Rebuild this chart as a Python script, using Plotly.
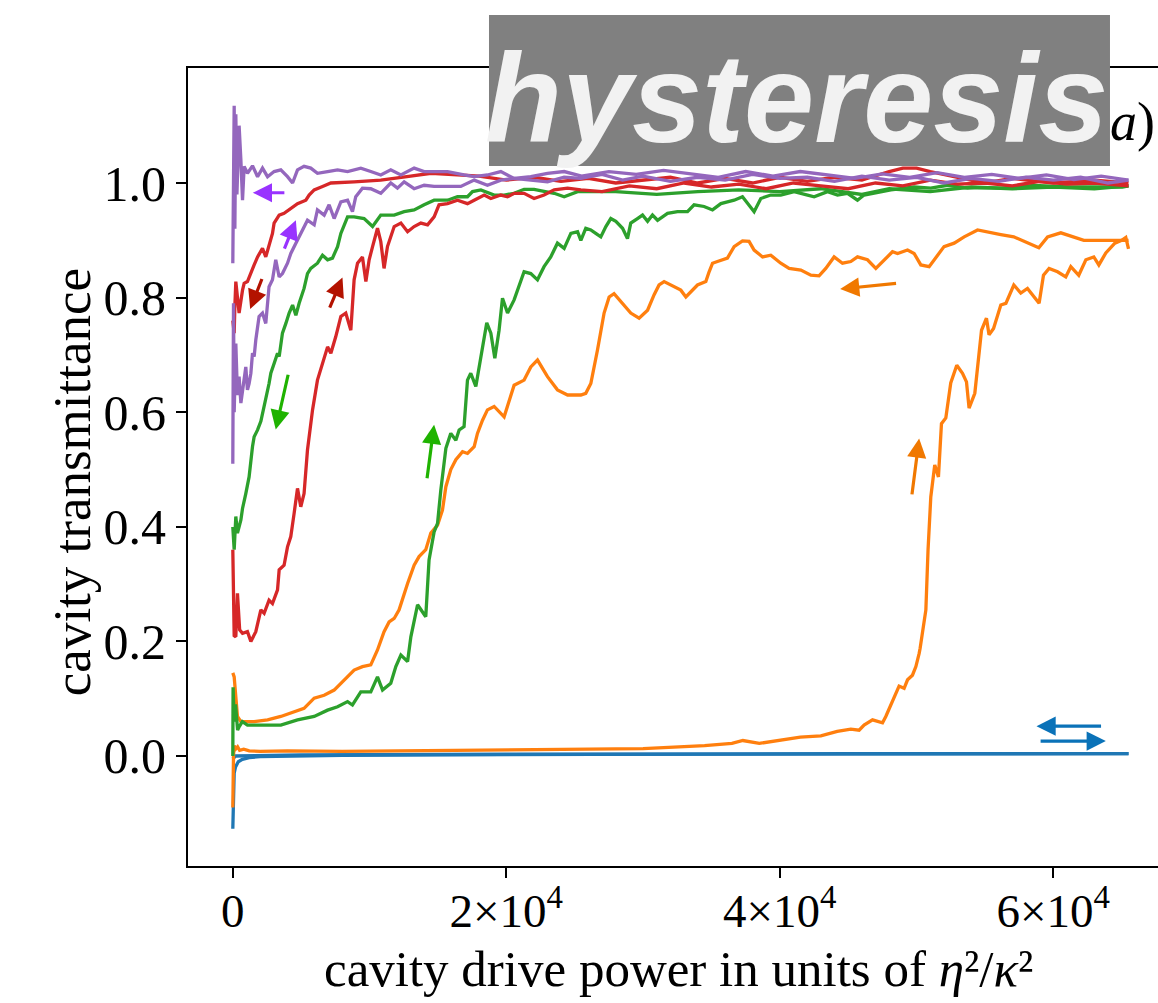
import plotly.graph_objects as go

# ---------------- data (x in units of 10^3 eta^2/kappa^2) ----------------
blue_up_x = [0, 0.02, 0.05, 0.1, 0.2, 0.4, 0.7, 1.2, 2, 4, 8, 15, 25, 35, 45, 55, 65.5]
blue_up_y = [-0.127, -0.09, -0.05, -0.03, -0.019, -0.01, -0.006, -0.003, -0.001, 0.0, 0.001, 0.002, 0.003, 0.003, 0.004, 0.004, 0.004]
blue_down_x = [65.5, 40, 20, 5, 1, 0.2, 0]
blue_down_y = [0.004, 0.004, 0.003, 0.002, 0.001, 0.0, -0.005]

orange_up_x = [0, 0.02, 0.05, 0.1, 0.2, 0.35, 0.5, 0.8, 1.2, 2, 4, 8, 14, 20, 25.4, 30, 34.5, 36.5, 37.3, 38.5,
               41.5, 43.0, 44.2, 45.19, 45.80, 46.16, 46.78, 47.51, 47.75, 48.12, 48.48, 48.72, 49.09, 49.34, 49.70,
               49.95, 50.19, 50.26, 50.68, 50.84, 51.04, 51.33, 51.60, 51.82, 52.14, 52.50, 52.94, 53.36, 53.65,
               53.84, 54.26, 54.46, 54.75, 55.11, 55.30, 55.63, 55.92, 56.16, 56.53, 57.11, 57.62, 58.11, 58.96,
               59.28, 59.69, 60.31, 60.91, 61.28, 61.86, 62.38, 62.96, 63.33, 63.84, 64.5, 65.0, 65.3, 65.5]
orange_up_y = [-0.09, -0.03, 0.0, 0.018, 0.012, 0.016, 0.010, 0.012, 0.009, 0.008, 0.009, 0.008, 0.009, 0.010, 0.012, 0.013, 0.018, 0.022, 0.027, 0.022,
               0.033, 0.035, 0.043, 0.047, 0.045, 0.054, 0.063, 0.058, 0.069, 0.089, 0.112, 0.122, 0.118, 0.133, 0.141,
               0.156, 0.179, 0.188, 0.255, 0.36, 0.452, 0.508, 0.487, 0.58, 0.59, 0.651, 0.682, 0.668, 0.653,
               0.607, 0.633, 0.679, 0.743, 0.764, 0.735, 0.746, 0.77, 0.787, 0.79, 0.822, 0.808, 0.816, 0.79,
               0.839, 0.851, 0.845, 0.836, 0.854, 0.839, 0.866, 0.871, 0.857, 0.878, 0.895, 0.90, 0.905, 0.885]

orange_down_x = [65.5, 64.94, 64.20, 62.23, 60.55, 59.58, 58.94, 57.11, 56.16, 54.46, 53.48, 52.75, 52.01, 50.92, 50.31,
                 49.82, 49.34, 48.61, 48.24, 47.63, 47.02, 46.41, 45.68, 45.19, 44.58, 43.97, 43.36, 42.87, 42.27,
                 41.54, 40.68, 40.07, 39.34, 38.74, 38.12, 37.75, 37.27, 36.66, 36.17, 35.44, 35.08, 34.83, 34.59,
                 33.98, 33.13, 32.76, 32.03, 31.54, 31.17, 30.81, 30.33, 29.71, 29.10, 28.50, 27.88, 27.52, 27.15,
                 26.67, 26.18, 25.81, 25.45, 24.48, 23.74, 23.01, 22.28, 21.79, 21.30, 20.57, 19.84, 19.11, 18.62,
                 18.26, 17.89, 17.65, 17.16, 16.80, 16.31, 15.94, 15.58, 15.33, 14.97, 14.48, 14.11, 13.62, 13.26,
                 12.78, 12.16, 11.80, 11.43, 11.06, 10.58, 10.09, 9.48, 8.87, 8.39, 7.90, 7.41, 6.68, 5.95, 5.21,
                 4.48, 3.51, 2.54, 1.56, 0.59, 0.34, 0.22, 0.10, 0.0]
orange_down_y = [0.90, 0.90, 0.90, 0.90, 0.913, 0.906, 0.887, 0.906, 0.91, 0.918, 0.906, 0.895, 0.889, 0.854, 0.857,
                 0.877, 0.883, 0.877, 0.88, 0.866, 0.851, 0.866, 0.871, 0.863, 0.86, 0.871, 0.851, 0.838, 0.839,
                 0.848, 0.851, 0.86, 0.874, 0.871, 0.883, 0.898, 0.899, 0.889, 0.869, 0.863, 0.86, 0.845, 0.828,
                 0.822, 0.801, 0.813, 0.822, 0.828, 0.822, 0.805, 0.778, 0.764, 0.773, 0.79, 0.807, 0.801, 0.773,
                 0.709, 0.65, 0.633, 0.63, 0.63, 0.639, 0.662, 0.691, 0.679, 0.656, 0.647, 0.592, 0.61, 0.604,
                 0.586, 0.563, 0.54, 0.528, 0.531, 0.517, 0.5, 0.47, 0.429, 0.403, 0.389, 0.36, 0.348, 0.333,
                 0.301, 0.255, 0.24, 0.234, 0.217, 0.185, 0.159, 0.156, 0.15, 0.138, 0.127, 0.115, 0.106, 0.101, 0.083,
                 0.077, 0.069, 0.063, 0.06, 0.06, 0.069, 0.103, 0.138, 0.145]

green_up_x = [0, 0.02, 0.1, 0.2, 0.35, 0.46, 0.7, 1.07, 2.29, 3.51, 4.73, 5.95, 6.93, 7.66, 8.39, 8.75, 9.36, 10.09,
              10.58, 10.95, 11.55, 11.92, 12.29, 12.78, 13.02, 13.51, 14.11, 14.35, 14.72, 14.97, 15.21, 15.45, 15.58,
              15.94, 16.31, 16.55, 16.91, 17.16, 17.40, 17.77, 18.01, 18.38, 18.57, 18.87, 19.16, 19.47, 19.72,
              20.09, 20.57, 21.30, 21.79, 22.28, 22.76, 23.25, 23.74, 24.23, 24.72, 25.21, 25.45, 25.81, 26.18,
              26.54, 26.91, 27.28, 27.64, 28.01, 28.50, 28.86, 29.10, 29.59, 29.96, 30.33, 30.69, 31.06, 31.79,
              32.52, 33.25, 33.73, 34.46, 35.08, 35.69, 36.17, 36.66, 37.27, 37.64, 38.12, 38.61, 39.34, 40.07,
              40.56, 41.05, 42.03, 42.51, 43.49, 44.22, 44.95, 45.68, 46.16, 47.39, 48.12, 49.82, 51.04, 52.26,
              53.73, 54.70, 56.16, 58.60, 61.04, 63.47, 65.06, 65.5]
green_up_y = [0.0, 0.12, 0.06, 0.09, 0.045, 0.051, 0.06, 0.054, 0.054, 0.054, 0.063, 0.069, 0.08, 0.086, 0.095, 0.089, 0.112, 0.112,
              0.138, 0.115, 0.127, 0.156, 0.176, 0.165, 0.208, 0.264, 0.243, 0.342, 0.391, 0.406, 0.464, 0.511, 0.537,
              0.563, 0.551, 0.569, 0.575, 0.656, 0.668, 0.645, 0.679, 0.732, 0.756, 0.738, 0.694, 0.743, 0.799,
              0.773, 0.796, 0.845, 0.842, 0.831, 0.854, 0.871, 0.895, 0.886, 0.912, 0.915, 0.90, 0.921, 0.918,
              0.912, 0.906, 0.924, 0.938, 0.933, 0.921, 0.903, 0.93, 0.938, 0.944, 0.933, 0.944, 0.935, 0.947,
              0.95, 0.95, 0.962, 0.959, 0.953, 0.964, 0.967, 0.97, 0.976, 0.964, 0.95, 0.973, 0.979, 0.979,
              0.982, 0.985, 0.979, 0.976, 0.985, 0.979, 0.982, 0.97, 0.979, 0.985, 0.988, 0.993, 0.991, 0.996,
              0.991, 0.992, 0.991, 0.996, 0.993, 0.993, 0.993, 0.995]

green_down_x = [65.5, 63.0, 60.0, 57.0, 54.0, 51.0, 48.0, 46.0, 43.0, 40.0, 37.0, 34.0, 31.0, 28.0, 25.21, 24.23,
                23.50, 22.76, 22.03, 21.30, 20.57, 19.84, 19.11, 18.14, 17.53, 17.16, 16.43, 15.70, 15.21, 14.72,
                13.99, 13.26, 12.53, 11.80, 10.82, 10.22, 9.60, 8.87, 8.39, 8.14, 7.90, 7.66, 7.29, 6.93, 6.56,
                6.19, 5.70, 5.46, 5.21, 4.85, 4.61, 4.37, 4.12, 3.88, 3.63, 3.39, 3.27, 3.02, 2.78, 2.65, 2.29,
                2.05, 1.81, 1.56, 1.44, 1.19, 0.95, 0.71, 0.59, 0.34, 0.22, 0.10, 0.0]
green_down_y = [0.995, 0.99, 0.993, 0.99, 0.993, 0.985, 0.99, 0.98, 0.99, 0.985, 0.988, 0.985, 0.98, 0.985, 0.985, 0.976,
                0.982, 0.985, 0.989, 0.989, 0.982, 0.979, 0.979, 0.988, 0.985, 0.976, 0.976, 0.97, 0.97, 0.97,
                0.962, 0.953, 0.95, 0.944, 0.944, 0.924, 0.938, 0.941, 0.941, 0.927, 0.912, 0.889, 0.869, 0.866, 0.874,
                0.86, 0.851, 0.842, 0.816, 0.79, 0.769, 0.787, 0.773, 0.755, 0.738, 0.697, 0.703, 0.685, 0.668, 0.65, 0.61,
                0.584, 0.569, 0.557, 0.54, 0.487, 0.458, 0.432, 0.412, 0.389, 0.418, 0.36, 0.40]

red_up_x = [0.0, 0.05, 0.10, 0.22, 0.34, 0.50, 0.71, 1.07, 1.32, 1.68, 2.05, 2.29, 2.65, 2.90, 3.27, 3.39, 3.75, 4.00,
            4.24, 4.48, 4.73, 4.97, 5.21, 5.46, 5.83, 6.19, 6.56, 6.93, 7.17, 7.53, 7.90, 8.26, 8.63, 8.87, 9.12,
            9.48, 9.73, 9.97, 10.22, 10.58, 10.82, 11.06, 11.31, 11.80, 12.29, 12.78, 13.26, 13.75, 14.24, 14.72,
            15.08, 15.70, 16.43, 17.16, 17.65, 18.38, 18.87, 19.60, 20.09, 20.57, 21.30, 22.03, 22.76, 23.50, 24.48,
            25.45, 27.0, 29.0, 31.0, 33.0, 35.0, 37.0, 39.0, 41.0, 43.0, 45.0, 47.0, 49.0, 51.0, 53.0, 55.0, 57.0,
            59.0, 61.0, 63.0, 65.5]
red_up_y = [0.36, 0.30, 0.21, 0.208, 0.284, 0.22, 0.214, 0.217, 0.20, 0.217, 0.255, 0.249, 0.272, 0.266, 0.29, 0.325, 0.333, 0.365,
            0.383, 0.423, 0.467, 0.435, 0.458, 0.534, 0.604, 0.656, 0.685, 0.714, 0.703, 0.732, 0.767, 0.773, 0.743, 0.831, 0.86,
            0.871, 0.828, 0.866, 0.889, 0.921, 0.898, 0.851, 0.889, 0.924, 0.93, 0.915, 0.924, 0.93, 0.927, 0.941,
            0.962, 0.964, 0.97, 0.964, 0.97, 0.979, 0.973, 0.979, 0.976, 0.982, 0.982, 0.973, 0.979, 0.988, 0.991,
            0.988, 0.985, 0.995, 0.99, 1.0, 0.993, 0.998, 0.99, 1.0, 0.995, 0.99, 1.0, 0.995, 1.005, 0.998, 1.0, 0.995,
            1.003, 0.998, 1.0, 0.995]

red_down_x = [65.5, 63.0, 60.0, 57.0, 55.0, 52.5, 51.0, 50.0, 49.0, 48.0, 46.0, 44.0, 42.0, 40.0, 38.0, 36.0, 34.0,
              32.0, 30.0, 28.0, 26.0, 24.0, 22.0, 20.0, 18.0, 16.0, 14.5, 13.0, 10.82, 8.87, 7.17, 6.56, 5.95,
              5.58, 5.34, 4.73, 4.24, 3.75, 3.39, 3.02, 2.90, 2.65, 2.41, 2.17, 1.81, 1.56, 1.32, 1.07, 0.83,
              0.71, 0.46, 0.34, 0.22, 0.15, 0.10, 0.0]
red_down_y = [1.0, 1.005, 1.0, 1.008, 1.0, 1.012, 1.02, 1.026, 1.026, 1.02, 1.005, 1.01, 1.003, 1.01, 1.0, 1.008, 1.0,
              1.01, 1.005, 1.0, 1.008, 1.003, 1.01, 1.005, 1.012, 1.015, 1.017, 1.012, 1.005, 1.002, 1.0, 0.994, 0.988,
              0.979, 0.97, 0.964, 0.956, 0.947, 0.944, 0.93, 0.912, 0.889, 0.871, 0.886, 0.871, 0.857, 0.842, 0.828, 0.825,
              0.813, 0.773, 0.796, 0.828, 0.785, 0.738, 0.76]

purple_up_x = [0.0, 0.05, 0.10, 0.22, 0.34, 0.46, 0.59, 0.83, 0.95, 1.07, 1.19, 1.32, 1.44, 1.56, 1.68, 1.92, 2.17,
               2.41, 2.65, 2.90, 3.14, 3.39, 3.63, 4.00, 4.24, 4.61, 4.97, 5.46, 5.95, 6.19, 6.68, 7.04, 7.41, 7.90,
               8.39, 8.75, 8.99, 9.48, 10.09, 10.82, 11.55, 12.04, 12.53, 13.26, 13.99, 14.72, 15.70, 16.67, 17.65,
               18.62, 19.60, 20.57, 21.79, 23.01, 24.23, 25.45, 27.0, 28.5, 30.0, 32.0, 34.0, 36.0, 38.0, 40.0,
               42.0, 44.0, 46.0, 48.0, 50.0, 52.0, 54.0, 56.0, 58.0, 60.0, 62.0, 64.0, 65.5]
purple_up_y = [0.51, 0.79, 0.60, 0.72, 0.63, 0.662, 0.616, 0.662, 0.679, 0.639, 0.65, 0.668, 0.703, 0.697, 0.726, 0.767, 0.773,
               0.755, 0.819, 0.831, 0.866, 0.836, 0.842, 0.86, 0.877, 0.895, 0.912, 0.935, 0.927, 0.953, 0.944, 0.962, 0.938, 0.967,
               0.97, 0.95, 0.976, 0.991, 0.99, 0.982, 1.0, 0.991, 1.002, 0.99, 0.996, 0.994, 0.994, 0.994, 1.005,
               0.996, 1.005, 1.008, 1.005, 1.002, 1.01, 1.008, 1.015, 1.005, 1.012, 1.003, 1.01, 1.005, 1.015, 1.008,
               1.01, 1.003, 1.012, 1.005, 1.01, 1.0, 1.008, 1.003, 1.01, 1.005, 1.01, 1.0, 1.005]

purple_down_x = [65.5, 63.5, 61.5, 59.5, 57.5, 55.5, 53.5, 51.5, 49.5, 47.5, 45.5, 43.5, 41.5, 39.5, 37.5, 35.5, 33.5,
                 31.5, 29.5, 27.5, 25.5, 24.23, 23.01, 21.79, 20.57, 19.60, 18.62, 17.65, 16.91, 15.70, 14.72, 13.99,
                 13.26, 12.29, 11.55, 10.82, 10.09, 9.36, 8.39, 7.66, 6.93, 6.19, 5.70, 5.21, 4.73, 4.37, 4.00, 3.51,
                 3.02, 2.54, 2.17, 1.81, 1.44, 1.07, 0.83, 0.71, 0.59, 0.46, 0.30, 0.22, 0.15, 0.10, 0.05, 0.0]
purple_down_y = [1.005, 1.012, 1.006, 1.014, 1.008, 1.015, 1.01, 1.018, 1.01, 1.016, 1.008, 1.014, 1.02, 1.012, 1.02, 1.01, 1.016,
                 1.022, 1.015, 1.02, 1.012, 1.02, 1.017, 1.011, 1.008, 1.02, 1.014, 1.011, 1.014, 1.02, 1.02, 1.02,
                 1.026, 1.014, 1.023, 1.014, 1.02, 1.026, 1.02, 1.023, 1.02, 1.017, 1.026, 1.029, 1.023, 1.0, 1.011, 1.023,
                 1.02, 1.011, 1.026, 1.011, 1.03, 1.017, 1.029, 0.97, 1.04, 1.10, 0.98, 1.12, 0.92, 1.135, 1.0, 0.86]

# arrows: (tail_x, tail_y, head_x, head_y) in data units (x in 10^3)
arrow_purple = [(3.88, 0.983, 1.46, 0.983), (3.73, 0.883, 4.61, 0.935)]
arrow_red = [(2.17, 0.835, 1.27, 0.780), (7.04, 0.780, 8.02, 0.835)]
arrow_green = [(4.07, 0.668, 3.14, 0.570), (14.19, 0.482, 14.72, 0.578)]
arrow_orange = [(48.61, 0.825, 44.41, 0.815), (49.65, 0.454, 50.19, 0.554)]
arrow_blue = [(63.6, 0.052, 58.77, 0.052), (58.96, 0.026, 63.84, 0.026)]

x_tick_vals = [0, 20000, 40000, 60000]
x_tick_text = ["0", "2×10<sup>4</sup>", "4×10<sup>4</sup>", "6×10<sup>4</sup>"]
y_tick_vals = [0.0, 0.2, 0.4, 0.6, 0.8, 1.0]
y_tick_text = ["0.0", "0.2", "0.4", "0.6", "0.8", "1.0"]

x_title = "cavity drive power in units of <i>η</i>²/<i>κ</i>²"
y_title = "cavity transmittance"
panel_label = "<i>a</i>)"
stamp_text = "<b><i>hysteresis</i></b>"

SCALE = 1000.0

series = [
    ("#1f77b4", blue_up_x, blue_up_y, blue_down_x, blue_down_y),
    ("#ff7f0e", orange_up_x, orange_up_y, orange_down_x, orange_down_y),
    ("#2ca02c", green_up_x, green_up_y, green_down_x, green_down_y),
    ("#d62728", red_up_x, red_up_y, red_down_x, red_down_y),
    ("#9467bd", purple_up_x, purple_up_y, purple_down_x, purple_down_y),
]

fig = go.Figure()
for color, ux, uy, dx, dy in series:
    for xs, ys in ((ux, uy), (dx, dy)):
        fig.add_trace(go.Scatter(x=[v * SCALE for v in xs], y=ys, mode="lines",
                                 line=dict(color=color, width=3.3), hoverinfo="skip"))

annotations = []
for color, arrows in (("#9933ff", arrow_purple), ("#b31200", arrow_red), ("#1fb300", arrow_green),
                      ("#f07800", arrow_orange), ("#0a72b8", arrow_blue)):
    for tx, ty, hx, hy in arrows:
        annotations.append(dict(x=hx * SCALE, y=hy, ax=tx * SCALE, ay=ty, xref="x", yref="y",
                                axref="x", ayref="y", text="", showarrow=True, arrowhead=2,
                                arrowsize=1.2, arrowwidth=3.2, arrowcolor=color, standoff=0))

serif = "Liberation Serif"
annotations.append(dict(x=0.9732, y=0.9323, xref="paper", yref="paper", text=panel_label,
                        showarrow=False, font=dict(family=serif, size=54, color="black"),
                        xanchor="center", yanchor="middle"))
annotations.append(dict(x=0.6278, y=0.9624, xref="paper", yref="paper", text=stamp_text,
                        showarrow=False, font=dict(family="Liberation Sans", size=126, color="#f2f2f2"),
                        xanchor="center", yanchor="middle"))
# axis titles
annotations.append(dict(x=0.5052, y=-0.1285, xref="paper", yref="paper", text=x_title,
                        showarrow=False, font=dict(family=serif, size=51, color="black"),
                        xanchor="center", yanchor="middle"))
annotations.append(dict(x=-0.1196, y=0.481, xref="paper", yref="paper", text=y_title, textangle=-90,
                        showarrow=False, font=dict(family=serif, size=53, color="black"),
                        xanchor="center", yanchor="middle"))

fig.update_layout(
    width=1158, height=1003,
    margin=dict(l=188, r=0, t=68, b=137),
    plot_bgcolor="white", paper_bgcolor="white",
    showlegend=False,
    font=dict(family=serif, color="black"),
    shapes=[dict(type="rect", xref="paper", yref="paper", x0=0.3103, x1=0.9505, y0=0.8772, y1=1.0664,
                 fillcolor="#808080", line=dict(width=0), layer="above")],
    annotations=annotations,
)
fig.update_xaxes(range=[-3277, 67655], tickvals=x_tick_vals, ticktext=x_tick_text,
                 ticks="outside", ticklen=10, tickwidth=2, tickcolor="black",
                 showline=True, linecolor="black", linewidth=2, mirror=True,
                 showgrid=False, zeroline=False, tickfont=dict(family=serif, size=47),
                 ticklabelstandoff=-7)
fig.update_yaxes(range=[-0.192, 1.2007], tickvals=y_tick_vals, ticktext=y_tick_text,
                 ticks="outside", ticklen=10, tickwidth=2, tickcolor="black",
                 showline=True, linecolor="black", linewidth=2, mirror=False,
                 showgrid=False, zeroline=False, tickfont=dict(family=serif, size=50))

fig.write_html("out.html")
